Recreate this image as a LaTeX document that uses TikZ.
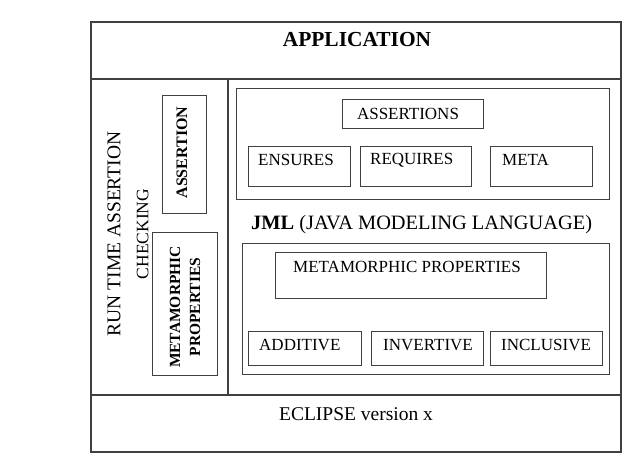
\documentclass[tikz,border=0pt]{standalone}
\usepackage{fontspec}
\setmainfont{Liberation Serif}
\begin{document}
\begin{tikzpicture}[x=1pt,y=-1pt,
  frame/.style={draw=black!75, line width=1.1pt},
  box/.style={draw=black!75, line width=0.9pt, inner sep=0pt},
  lbl/.style={inner sep=0pt, anchor=west, font=\fontsize{17}{20}\selectfont},
]
\useasboundingbox (0,0) rectangle (643,462);
% outer frame
\node[box, frame, minimum width=530pt, minimum height=430pt] (outer) at (356,237) {};
\coordinate (appL) at (91,79);
\coordinate (appR) at (621,79);
\coordinate (eclL) at (91,395);
\coordinate (eclR) at (621,395);
\coordinate (divT) at (228,79);
\coordinate (divB) at (228,395);
\draw[frame] (appL) -- (appR);
\draw[frame] (eclL) -- (eclR);
\draw[frame] (divT) -- (divB);
\node[inner sep=0pt, font=\fontsize{21.4}{24}\selectfont\bfseries] (app) at (357,40) {APPLICATION};
\node[inner sep=0pt, font=\fontsize{19.5}{22}\selectfont] (ecl) at (356,414) {ECLIPSE version x};

% left column
\node[inner sep=0pt, rotate=90, align=center, font=\fontsize{19.5}{28}\selectfont] (rtac) at (128,234)
  {RUN TIME ASSERTION\\{\fontsize{17.5}{28}\selectfont CHECKING}};
\node[box, minimum width=44pt, minimum height=118pt] (assbox) at (184,154) {};
\node[inner sep=0pt, rotate=90, font=\fontsize{16}{19}\selectfont\bfseries] (asstxt) at (182,152.5) {ASSERTION};
\node[box, minimum width=65pt, minimum height=143pt] (mpbox) at (184.5,303.5) {};
\node[inner sep=0pt, rotate=90, align=center, font=\fontsize{15.5}{20}\selectfont\bfseries] (mptxt) at (185,307) {METAMORPHIC\\PROPERTIES};

% upper JML box
\node[box, minimum width=373pt, minimum height=111pt] (upper) at (422.5,143.5) {};
\node[box, minimum width=141pt, minimum height=29pt] (assertions) at (412.5,113.5) {};
\node[inner sep=0pt, font=\fontsize{17}{20}\selectfont] (assertionstxt) at (408,113.5) {ASSERTIONS};
\node[box, minimum width=102pt, minimum height=40pt] (ensures) at (299,166) {};
\node[lbl] (ensurestxt) at (258,160) {ENSURES};
\node[box, minimum width=111pt, minimum height=40pt] (requires) at (415.5,166) {};
\node[lbl] (requirestxt) at (370,160) {REQUIRES};
\node[box, minimum width=102pt, minimum height=40pt] (meta) at (541,166) {};
\node[lbl] (metatxt) at (502,160) {META};

% JML label
\node[inner sep=0pt, anchor=west, font=\fontsize{20.4}{24}\selectfont] (jml) at (251,225) {\textbf{JML} (JAVA MODELING LANGUAGE)};

% lower box
\node[box, minimum width=367pt, minimum height=131pt] (lower) at (425.5,308.5) {};
\node[box, minimum width=271pt, minimum height=46pt] (mprops) at (410.5,275) {};
\node[lbl] (mpropstxt) at (293,267) {METAMORPHIC PROPERTIES};
\node[box, minimum width=113pt, minimum height=34pt] (additive) at (304.5,348) {};
\node[lbl] (additivetxt) at (259,345) {ADDITIVE};
\node[box, minimum width=112pt, minimum height=34pt] (invertive) at (427,348) {};
\node[lbl] (invertivetxt) at (383,345) {INVERTIVE};
\node[box, minimum width=112pt, minimum height=34pt] (inclusive) at (546,348) {};
\node[lbl] (inclusivetxt) at (501,345) {INCLUSIVE};
\end{tikzpicture}
\end{document}
